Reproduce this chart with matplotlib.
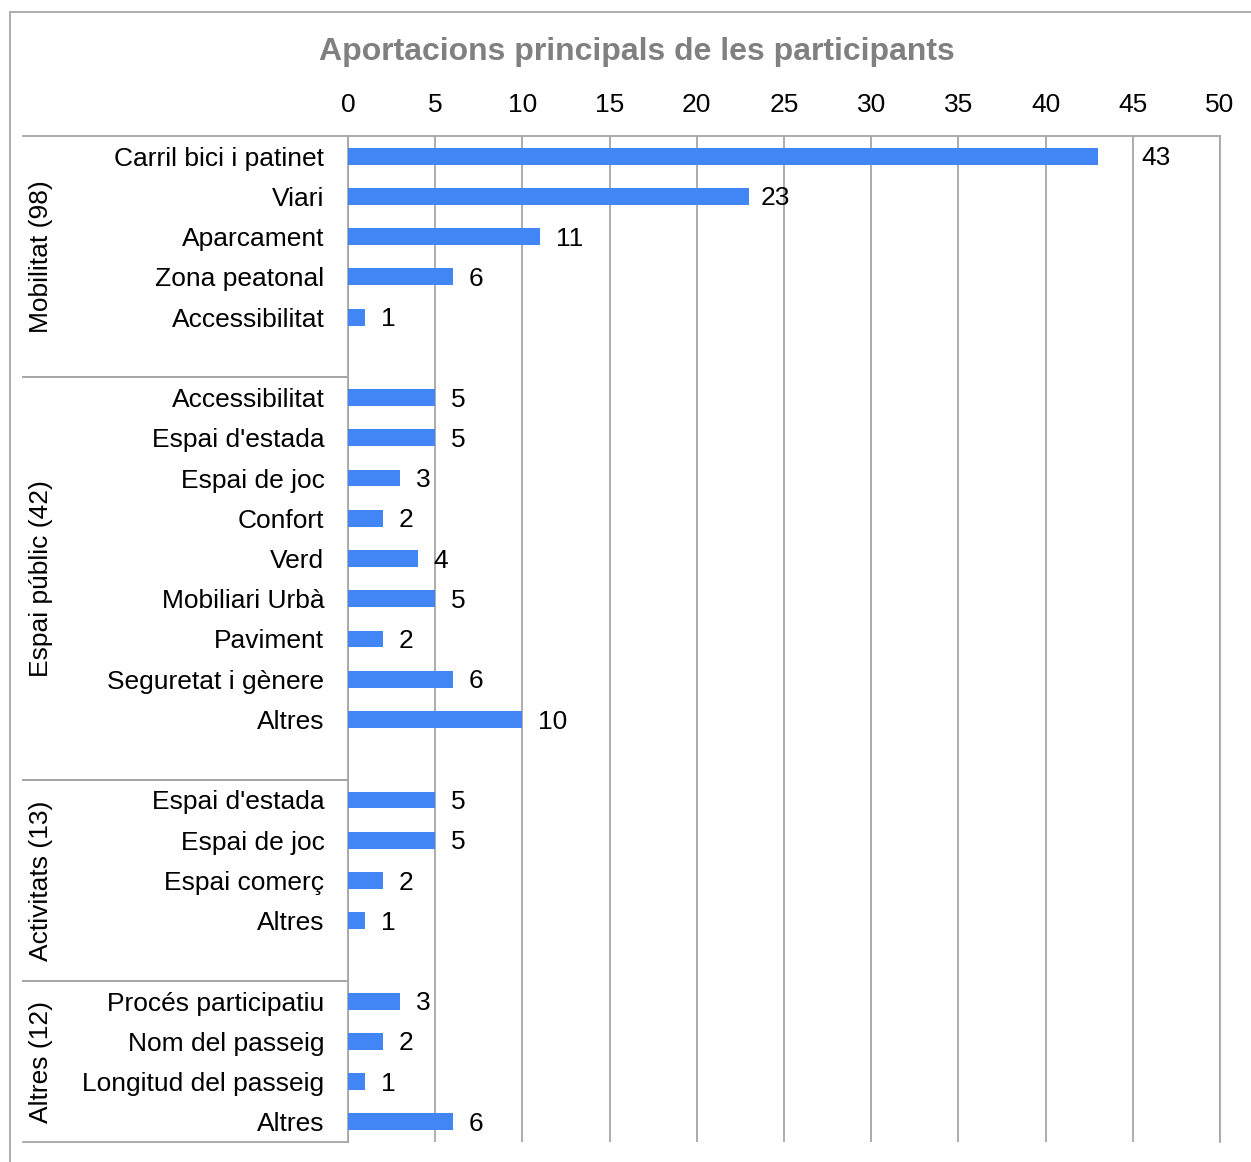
import matplotlib.pyplot as plt
import matplotlib.transforms as mtransforms
from matplotlib.lines import Line2D
from matplotlib.patches import Rectangle

plt.rcParams['font.family'] = ['Liberation Sans', 'DejaVu Sans']

# Data: groups and their items (top to bottom)
group_names = ['Mobilitat (98)', 'Espai públic (42)', 'Activitats (13)', 'Altres (12)']
mobilitat_items = ['Carril bici i patinet', 'Viari', 'Aparcament', 'Zona peatonal', 'Accessibilitat']
mobilitat_values = [43, 23, 11, 6, 1]
espai_items = ['Accessibilitat', "Espai d'estada", 'Espai de joc', 'Confort', 'Verd',
               'Mobiliari Urbà', 'Paviment', 'Seguretat i gènere', 'Altres']
espai_values = [5, 5, 3, 2, 4, 5, 2, 6, 10]
activitats_items = ["Espai d'estada", 'Espai de joc', 'Espai comerç', 'Altres']
activitats_values = [5, 5, 2, 1]
altres_items = ['Procés participatiu', 'Nom del passeig', 'Longitud del passeig', 'Altres']
altres_values = [3, 2, 1, 6]

groups = [(mobilitat_items, mobilitat_values), (espai_items, espai_values),
          (activitats_items, activitats_values), (altres_items, altres_values)]

W, H = 1251, 1162
fig = plt.figure(figsize=(W / 100, H / 100), dpi=100)
ax = fig.add_axes([348 / W, (H - 1142) / H, (1220 - 348) / W, (1142 - 136) / H])

bar_color = '#4285F4'
grid_color = '#a6a6a6'
fs = 19

# Build slot positions: each group followed by one empty slot (except the last)
positions, labels, values = [], [], []
group_bounds = []
slot = 0
for gi, (items, vals) in enumerate(groups):
    start = slot
    for name, v in zip(items, vals):
        positions.append(slot)
        labels.append(name)
        values.append(v)
        slot += 1
    if gi < len(groups) - 1:
        slot += 1
    group_bounds.append((start - 0.5, slot - 0.5))
n_slots = slot

ax.barh(positions, values, height=0.42, color=bar_color, zorder=3)

# extra horizontal nudge (points) for labels placed differently in the original
label_nudge = {0: 20, 1: -3}
for i, (p, v) in enumerate(zip(positions, values)):
    dx = 11.5 + label_nudge.get(i, 0)
    ax.annotate(str(v), (v, p), xytext=(dx, -1.5), textcoords='offset points',
                ha='left', va='center', fontsize=fs, color='black')

ax.set_xlim(0, 50)
ax.set_ylim(n_slots - 0.5, -0.5)
ax.set_xticks(range(0, 51, 5))
ax.xaxis.tick_top()
ax.tick_params(axis='x', length=0, pad=14, labelsize=fs)
ax.set_yticks(positions)
ax.set_yticklabels(labels)
ax.tick_params(axis='y', length=0, pad=17, labelsize=fs)

ax.grid(axis='x', color=grid_color, lw=1.3, zorder=0)
for s in ['top', 'left', 'right']:
    ax.spines[s].set_color(grid_color)
    ax.spines[s].set_linewidth(1.3)
ax.spines['bottom'].set_visible(False)

# Group separator lines and rotated group labels
trans = mtransforms.blended_transform_factory(fig.transFigure, ax.transData)
x_left = 23 / W
for (y0, y1), gname in zip(group_bounds, group_names):
    for yy in (y0, y1):
        fig.add_artist(Line2D([x_left, 348 / W], [yy, yy], transform=trans,
                              color=grid_color, lw=1.3))
    fig.text(41 / W, (y0 + y1) / 2, gname, transform=trans, rotation=90,
             ha='center', va='center', fontsize=fs)

# Outer frame (cut at right and bottom)
fig.add_artist(Rectangle((10 / W, -0.1), 1.2, 1.1 - 12 / H, transform=fig.transFigure,
                         fill=False, edgecolor=grid_color, lw=1.3))

fig.text(637 / W, 1 - 52 / H, 'Aportacions principals de les participants',
         ha='center', va='center', fontsize=23, fontweight='bold', color='#808080')

fig.savefig('out.png', dpi=100)
